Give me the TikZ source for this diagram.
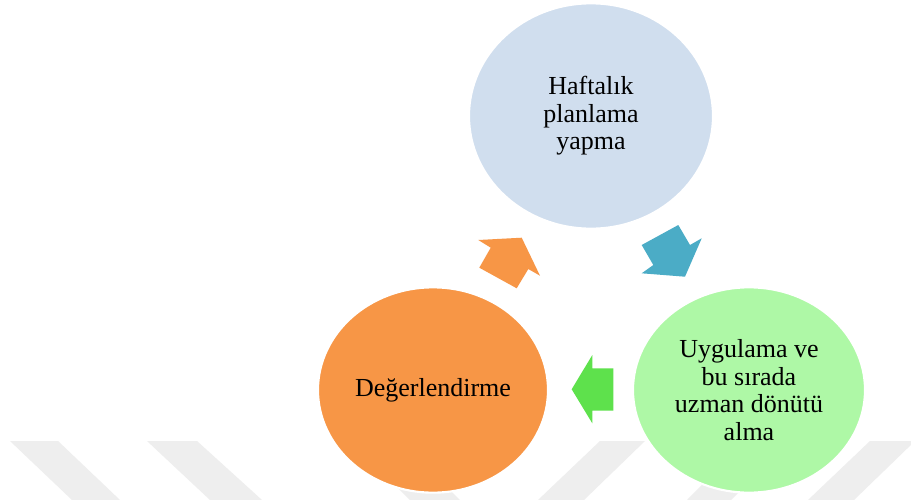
\documentclass[tikz,border=0pt]{standalone}
\usepackage{fontspec}
\setmainfont{Liberation Serif}
\usetikzlibrary{shapes.geometric}
\definecolor{topfill}{HTML}{D0DEEE}
\definecolor{greenfill}{HTML}{AEF8A6}
\definecolor{orangefill}{HTML}{F79646}
\definecolor{bluearrow}{HTML}{4BACC6}
\definecolor{greenarrow}{HTML}{5EE14C}
\definecolor{wm}{HTML}{EEEEEE}
\begin{document}
\begin{tikzpicture}[x=0.75pt,y=-0.75pt,
  ell/.style={ellipse, draw=white, line width=1.6pt, inner sep=0pt, align=center,
              font=\fontsize{19.5}{20.6}\selectfont},
  stripe/.style={fill=wm}]
\useasboundingbox (0,0) rectangle (911,500);
\fill[white] (0,0) rectangle (911,500);
% watermark stripes
\fill[stripe] (10,441) -- (58,441) -- (120,500) -- (72,500) -- cycle;
\fill[stripe] (147,441) -- (197,441) -- (262,500) -- (210,500) -- cycle;
\fill[stripe] (350,441) -- (400,441) -- (460,500) -- (410,500) -- cycle;
\fill[stripe] (600,441) -- (645,441) -- (584,500) -- (538,500) -- cycle;
\fill[stripe] (745,441) -- (790,441) -- (731,500) -- (687,500) -- cycle;
\fill[stripe] (870,441) -- (915,441) -- (854,500) -- (808,500) -- cycle;
% ellipses
\node[ell, fill=topfill, minimum width=183pt, minimum height=169pt] (plan) at (591,116)
  {Haftalık\\planlama\\yapma};
\node[ell, fill=greenfill, minimum width=174pt, minimum height=154pt] (apply) at (749,390)
  {Uygulama ve\\bu sırada\\uzman dönütü\\alma};
\node[ell, fill=orangefill, minimum width=172.5pt, minimum height=154pt] (eval) at (433,390)
  {Değerlendirme};
% block arrows
\fill[bluearrow] (641.7,245) -- (678.3,225) -- (690,245) -- (701.7,238.3)
  -- (685,276.7) -- (641.7,273.3) -- (653.3,265) -- cycle;
\fill[greenarrow] (571.7,389.3) -- (592.3,355) -- (592.3,368.3) -- (613.3,368.3)
  -- (613.3,410.7) -- (592.3,410.7) -- (592.3,423.3) -- cycle;
\fill[orangefill] (478.3,240) -- (521.7,237.7) -- (540,275.7) -- (528.3,269)
  -- (516.7,288.3) -- (479.3,267.7) -- (490.7,247.7) -- cycle;
\end{tikzpicture}
\end{document}
